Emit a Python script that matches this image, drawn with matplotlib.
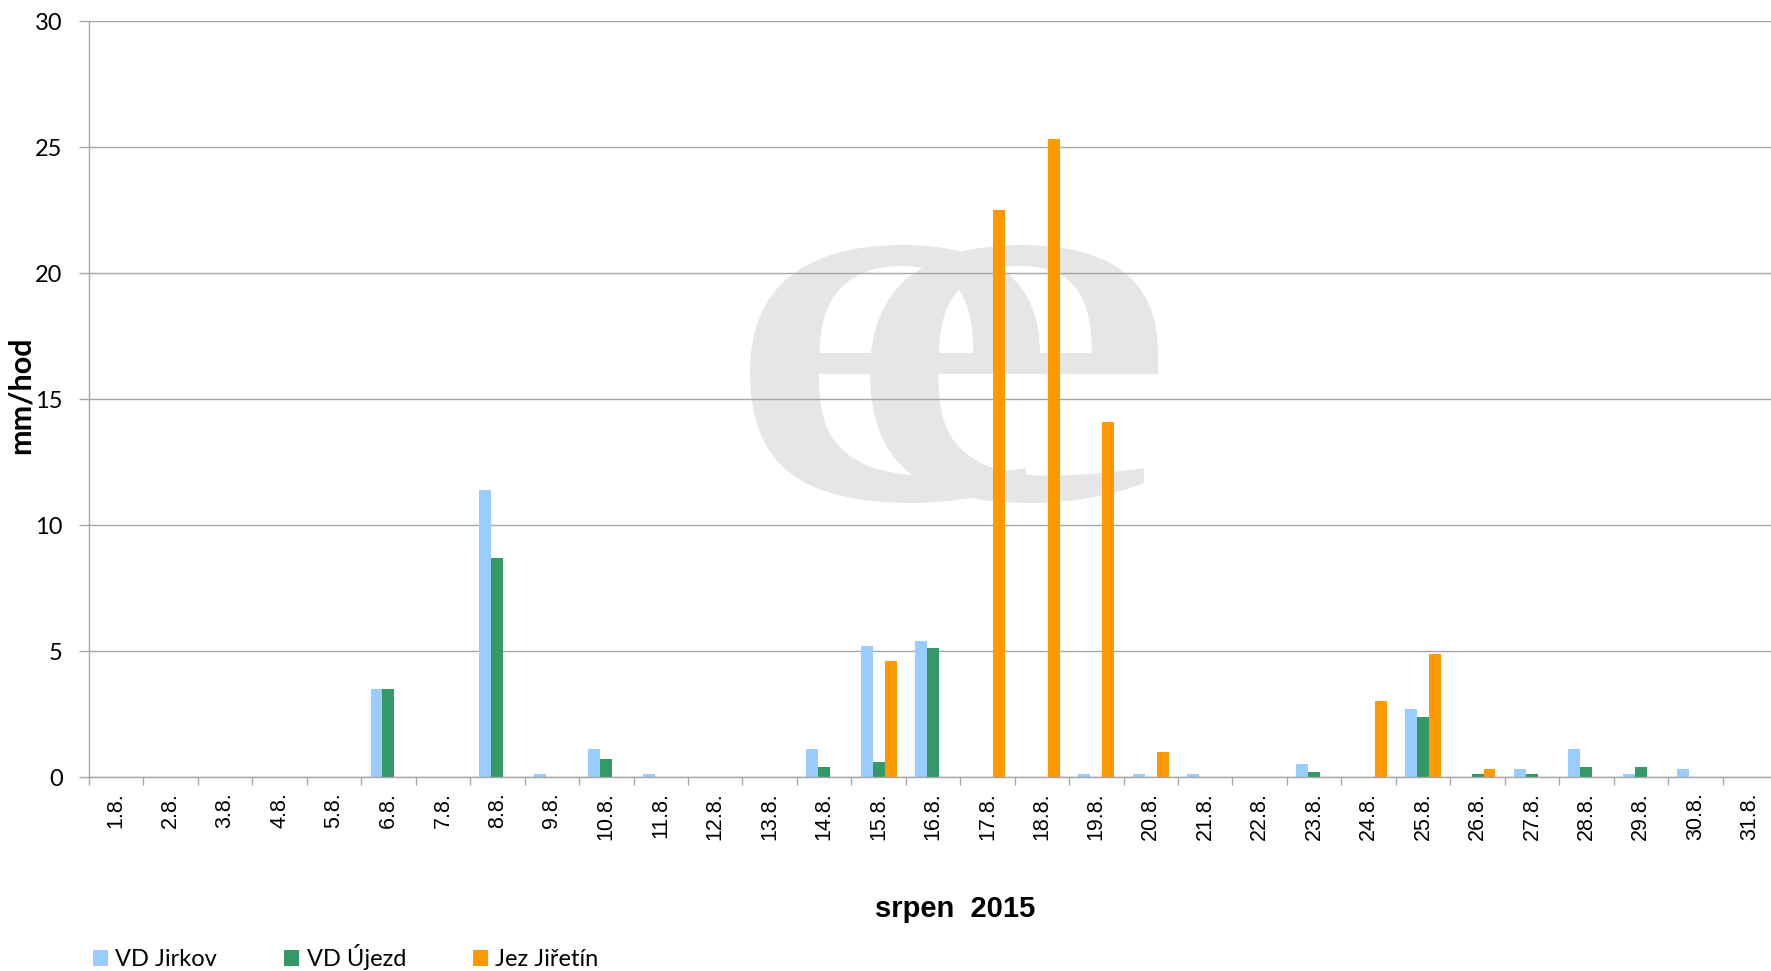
import numpy as np
import matplotlib
matplotlib.use("Agg")
from matplotlib import pyplot as plt
from matplotlib.textpath import TextPath
from matplotlib.patches import PathPatch
from matplotlib.font_manager import FontProperties
from matplotlib.transforms import Affine2D

# data (mm/hod per day, August 2015)
days = ["1.8.", "2.8.", "3.8.", "4.8.", "5.8.", "6.8.", "7.8.", "8.8.", "9.8.", "10.8.",
        "11.8.", "12.8.", "13.8.", "14.8.", "15.8.", "16.8.", "17.8.", "18.8.", "19.8.", "20.8.",
        "21.8.", "22.8.", "23.8.", "24.8.", "25.8.", "26.8.", "27.8.", "28.8.", "29.8.", "30.8.",
        "31.8."]
jirkov = [0, 0, 0, 0, 0, 3.5, 0, 11.4, 0.1, 1.1,
          0.1, 0, 0, 1.1, 5.2, 5.4, 0, 0, 0.1, 0.1,
          0.1, 0, 0.5, 0, 2.7, 0, 0.3, 1.1, 0.1, 0.3,
          0]
ujezd = [0, 0, 0, 0, 0, 3.5, 0, 8.7, 0, 0.7,
         0, 0, 0, 0.4, 0.6, 5.1, 0, 0, 0, 0,
         0, 0, 0.2, 0, 2.4, 0.1, 0.1, 0.4, 0.4, 0,
         0]
jiretin = [0, 0, 0, 0, 0, 0, 0, 0, 0, 0,
           0, 0, 0, 0, 4.6, 0, 22.5, 25.3, 14.1, 1.0,
           0, 0, 0, 3.0, 4.9, 0.3, 0, 0, 0, 0,
           0]
series_names = ["VD Jirkov", "VD Újezd", "Jez Jiřetín"]
colors = ["#99CCFF", "#339966", "#FF9900"]

W, H = 1771, 971
fig = plt.figure(figsize=(W / 100, H / 100), dpi=100)
ax = fig.add_axes([89 / W, 1 - 777 / H, 1688 / W, (777 - 21) / H])

x = np.arange(len(days))
bw = 0.22
for i, (vals, name, c) in enumerate(zip([jirkov, ujezd, jiretin], series_names, colors)):
    ax.bar(x + (i - 1) * bw, vals, width=bw, color=c, label=name, zorder=2)

ax.set_xlim(-0.5, len(days) - 0.5)
ax.set_ylim(0, 30)
ax.set_yticks(range(0, 31, 5))
ax.set_axisbelow(True)
ax.grid(axis="y", color="#A6A6A6", linewidth=1.0, zorder=0.5)

for s in ["top", "right"]:
    ax.spines[s].set_visible(False)
for s in ["left", "bottom"]:
    ax.spines[s].set_color("#A6A6A6")
    ax.spines[s].set_linewidth(1.0)

ax.set_xticks(x)
ax.set_xticklabels(days, rotation=90)
ax.set_xticks(np.arange(-0.5, len(days)), minor=True)
ax.tick_params(axis="x", which="major", length=0, pad=11,
               labelsize=15.5, labelfontfamily="Liberation Sans")
ax.tick_params(axis="x", which="minor", length=6, color="#A6A6A6", width=1.0)
ax.tick_params(axis="y", length=7, color="#A6A6A6", width=1.0, pad=12,
               labelsize=17, labelfontfamily="Lato")

# background logo (grey "ee")
fp = FontProperties(family="Liberation Serif")
def logo_glyph(ch, x0, x1, y0, y1):
    tp = TextPath((0, 0), ch, size=1, prop=fp)
    ext = tp.get_extents()
    tr = (Affine2D().translate(-ext.x0, -ext.y0)
          .scale((x1 - x0) / ext.width, (y1 - y0) / ext.height)
          .translate(x0, H - y1)
          .scale(1 / W, 1 / H)) + fig.transFigure
    ax.add_patch(PathPatch(tp, transform=tr, facecolor="#E6E6E6", edgecolor="none", zorder=0.3))

logo_glyph("e", 750, 1040, 245, 503)
logo_glyph("e", 870, 1158, 245, 503)

fig.text(21 / W, 1 - 395 / H, "mm/hod", rotation=90, ha="center", va="center",
         fontsize=22, fontweight="bold", family="Lato")
fig.text(955 / W, 1 - 909 / H, "srpen  2015", ha="center", va="center",
         fontsize=21, fontweight="bold", family="Liberation Sans")

fig.legend(loc="center left", bbox_to_anchor=(93 / W, 1 - 957 / H), ncol=3, frameon=False,
           prop=FontProperties(family="Lato", size=17), handlelength=0.64, handleheight=0.64,
           handletextpad=0.3, columnspacing=2.85, borderpad=0, borderaxespad=0)

fig.savefig("out.png", dpi=100)
